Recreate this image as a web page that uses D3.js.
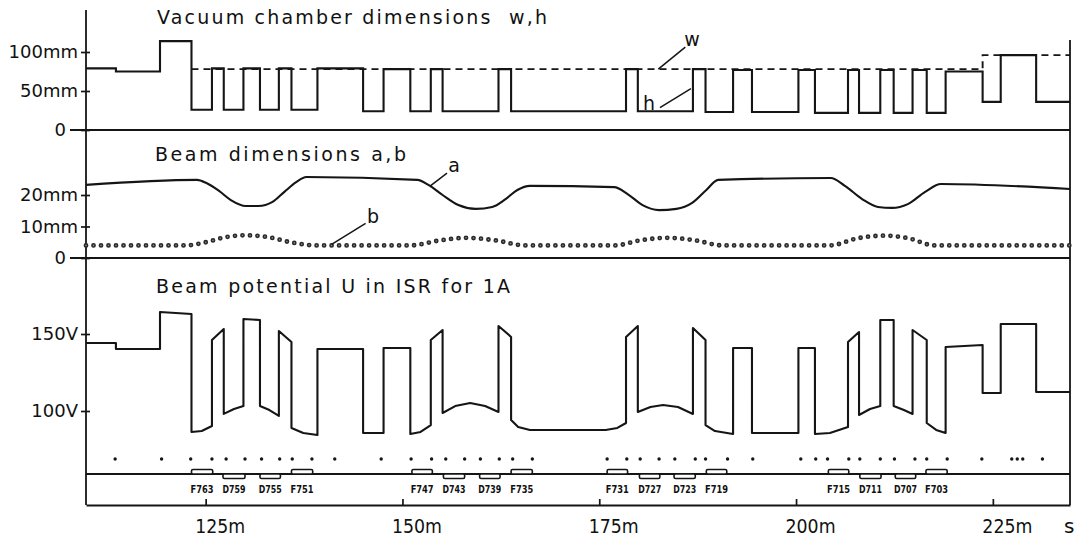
<!DOCTYPE html>
<html><head><meta charset="utf-8">
<script src="https://cdn.jsdelivr.net/npm/d3@7"></script>
<style>
html,body{margin:0;padding:0;background:#fff;}
svg{display:block;}
text{font-family:"DejaVu Sans",sans-serif;fill:#111;}
</style></head><body>
<svg id="chart" width="1076" height="543"></svg>
<script>
// Position along the ring s (m)
const sDomain = [109.8, 234.8];
const sTicks = [125, 150, 175, 200, 225];

// Vacuum chamber: h (solid) and w (dashed) as steps, edges in m, sizes in mm
const hEdges  = [109.8,113.6,119.2,123.2,125.8,127.3,129.8,131.9,134.3,135.9,139.2,145.0,147.6,151.0,153.6,155.1,162.2,163.8,178.4,179.9,186.9,188.5,192.0,194.4,200.3,202.4,206.6,208.0,210.7,212.4,214.8,216.6,219.0,223.7,226.0,230.5];
const hValues = [79,75,114,26,79,26,79,26,79,26,79,24,78,24,78,24,78,24,78,24,78,23,77,23,77,22,77,22,77,22,77,22,75,36,96,36];
const wEdges  = [123.2, 223.7];
const wValues = [78, 96];
const chamberTicks = [0, 50, 100];

// Beam half-dimensions a (solid) and b (dotted), mm
const aS = [109.8,123.9,125.1,126.7,128.2,130.1,131.7,133.5,135.0,136.5,137.8,151.9,153.3,155.1,157.1,159.3,161.4,163.1,164.6,166.2,176.9,178.6,180.5,182.6,184.8,186.8,188.6,190.1,204.4,206.2,208.4,210.4,212.2,214.2,216.4,218.4,234.8];
const aV = [23.2,24.8,23.8,21.3,18.4,16.5,16.5,17.8,21.0,24.1,25.7,24.8,23.2,20.0,16.8,15.6,16.2,18.7,21.6,22.9,22.5,20.3,16.8,15.2,15.6,17.5,21.6,24.8,25.4,22.9,18.7,16.2,15.9,17.1,21.0,23.5,21.9];
const bS = [109.8,122.5,125.0,127.5,130.1,133.0,135.8,139.0,151.0,154.8,158.2,161.8,165.6,177.0,180.2,183.6,187.2,190.6,204.3,207.9,211.3,214.2,217.6,234.8];
const bV = [4.0,4.0,5.0,6.6,7.2,6.6,5.0,4.0,4.0,5.6,6.4,5.6,4.0,4.0,5.6,6.4,5.6,4.0,4.0,6.3,7.1,6.3,4.0,4.0];
const beamTicks = [0, 10, 20];

// Beam potential U (V) for 1 A
const uS = [109.8,113.6,113.6,119.2,119.2,123.2,123.2,124.5,125.8,125.8,127.3,127.3,128.6,129.8,129.8,131.9,131.9,133.1,134.3,134.3,135.9,135.9,137.4,139.2,139.2,145.0,145.0,147.6,147.6,151.0,151.0,152.3,153.6,153.6,155.1,155.1,156.7,158.6,160.5,162.2,162.2,163.8,163.8,164.7,166.2,175.8,177.3,178.4,178.4,179.9,179.9,181.5,183.1,185.0,186.9,186.9,188.5,188.5,189.7,192.0,192.0,194.4,194.4,200.3,200.3,202.4,202.4,204.3,206.6,206.6,208.0,208.0,209.4,210.7,210.7,212.4,212.4,213.7,214.8,214.8,216.6,216.6,217.8,219.0,219.0,223.7,223.7,226.0,226.0,230.5,230.5,234.8];
const uV = [144.2,144.2,140.3,140.3,164.3,163.0,86.4,87.0,90.3,146.1,153.2,98.1,101.3,103.2,159.7,159.1,103.2,100.6,96.8,151.9,144.8,89.0,85.7,84.4,140.3,140.3,85.7,85.7,140.9,140.9,85.1,86.4,90.9,146.1,152.6,98.7,103.2,105.2,103.2,99.4,155.2,148.1,94.2,89.6,87.7,87.7,89.0,92.2,148.1,155.2,99.4,102.6,103.9,102.6,98.1,153.9,146.1,90.9,87.0,85.1,140.9,140.9,85.7,85.7,140.9,140.9,85.1,85.7,89.6,144.8,151.3,97.4,101.3,103.2,159.1,159.1,103.2,100.6,98.1,152.6,146.1,92.2,87.7,85.7,141.6,142.9,111.7,111.7,156.5,156.5,112.3,112.3];
const uTicks = [100, 150];

// Lattice magnets (F above the line, D below) and marker positions
const magnetNames = ["F763","D759","D755","F751","F747","D743","D739","F735","F731","D727","D723","F719","F715","D711","D707","F703"];
const magnetStart = [123.2,127.2,131.9,135.9,151.2,155.2,159.8,163.8,176.0,180.1,184.5,188.6,204.1,208.1,212.6,216.5];
const magnetEnd   = [125.9,130.0,134.5,138.6,153.8,157.9,162.4,166.5,178.6,182.7,187.2,191.2,206.7,210.8,215.2,219.2];
const markerS = [113.5,119.4,123.1,125.8,127.6,130.0,132.1,134.4,136.0,138.5,141.4,147.3,151.1,153.7,155.5,157.9,159.9,162.3,164.0,166.5,176.0,178.5,180.2,182.6,184.6,187.2,188.5,191.3,194.5,200.6,202.5,204.0,206.7,208.1,210.7,212.5,215.1,216.6,219.2,223.6,227.4,228.1,228.8,231.3];

const svg = d3.select("#chart");
const ink = "#151515";

const x   = d3.scaleLinear().domain(sDomain).range([86, 1070]);
const yCh = d3.scaleLinear().domain([0, 100]).range([130, 52]);
const yBm = d3.scaleLinear().domain([0, 20]).range([258, 195]);
const yU  = d3.scaleLinear().domain([100, 150]).range([411, 334]);

const steps = (edges, vals) => edges.map((e, i) => [e, vals[i]]).concat([[sDomain[1], vals[vals.length - 1]]]);

// Frame: left axis, right edge, panel separators, magnet line
const frame = svg.append("g").attr("stroke", ink).attr("stroke-width", 1.8).attr("fill", "none");
frame.append("line").attr("x1", 86).attr("x2", 86).attr("y1", 10).attr("y2", 505);
frame.append("line").attr("x1", 1070).attr("x2", 1070).attr("y1", 40).attr("y2", 505);
frame.append("line").attr("x1", 70).attr("x2", 1070).attr("y1", yCh(0)).attr("y2", yCh(0));
frame.append("line").attr("x1", 70).attr("x2", 1070).attr("y1", yBm(0)).attr("y2", yBm(0));
frame.append("line").attr("x1", 86).attr("x2", 1070).attr("y1", 474).attr("y2", 474);

// Left axes
function leftAxis(scale, ticks, unit) {
  const g = svg.append("g").attr("transform", "translate(86,0)")
    .call(d3.axisLeft(scale).tickValues(ticks).tickSize(5).tickPadding(3)
      .tickFormat(d => d === 0 ? "0" : d + unit));
  g.select(".domain").remove();
  g.selectAll(".tick line").attr("x1", 4).attr("stroke", ink).attr("stroke-width", 1.7);
  g.selectAll(".tick text").attr("font-size", 18).attr("fill", ink)
    .attr("font-family", "DejaVu Sans, sans-serif")
    .filter(d => d === 0).attr("x", -20);
  return g;
}
leftAxis(yCh, chamberTicks, "mm");
leftAxis(yBm, beamTicks, "mm");
leftAxis(yU, uTicks, "V");

// Bottom axis
const bx = svg.append("g").attr("transform", "translate(0,505)")
  .call(d3.axisBottom(x).tickValues(sTicks).tickSize(-6).tickSizeOuter(0).tickFormat(d => d + "m"));
bx.select(".domain").attr("stroke", ink).attr("stroke-width", 1.8);
bx.selectAll(".tick line").attr("stroke", ink).attr("stroke-width", 1.7);
bx.selectAll(".tick text").attr("font-size", 20).attr("fill", ink)
  .attr("font-family", "DejaVu Sans, sans-serif")
  .attr("text-anchor", "start").attr("x", -11).attr("y", 28).attr("dy", null)
  .attr("textLength", 50).attr("lengthAdjust", "spacingAndGlyphs");
svg.append("text").attr("x", 1064).attr("y", 533).attr("font-size", 20).text("s");

// Panel titles
const titles = [
  {t: "Vacuum chamber dimensions  w,h", x: 157, y: 24, len: 390},
  {t: "Beam dimensions a,b", x: 155, y: 161, len: 251},
  {t: "Beam potential U in ISR for 1A", x: 156, y: 293, len: 354}
];
svg.selectAll("text.title").data(titles).join("text").attr("class", "title")
  .attr("x", d => d.x).attr("y", d => d.y).attr("font-size", 19)
  .attr("textLength", d => d.len).attr("lengthAdjust", "spacing")
  .style("white-space", "pre").text(d => d.t);

// Chamber h (solid) and w (dashed)
svg.append("path").datum(steps(hEdges, hValues))
  .attr("fill", "none").attr("stroke", ink).attr("stroke-width", 2.1)
  .attr("d", d3.line().x(d => x(d[0])).y(d => yCh(d[1])).curve(d3.curveStepAfter));
svg.append("path").datum(steps(wEdges, wValues))
  .attr("fill", "none").attr("stroke", ink).attr("stroke-width", 1.9).attr("stroke-dasharray", "7,5")
  .attr("d", d3.line().x(d => x(d[0])).y(d => yCh(d[1])).curve(d3.curveStepAfter));

// Beam a (solid) and b (dotted)
const aPts = aS.map((s, i) => [s, aV[i]]);
const bPts = bS.map((s, i) => [s, bV[i]]);
svg.append("path").datum(aPts)
  .attr("fill", "none").attr("stroke", ink).attr("stroke-width", 2.1)
  .attr("d", d3.line().x(d => x(d[0])).y(d => yBm(d[1])).curve(d3.curveMonotoneX));
const bLine = d3.line().x(d => x(d[0])).y(d => yBm(d[1])).curve(d3.curveMonotoneX);
svg.append("path").datum(bPts)
  .attr("fill", "none").attr("stroke", "#2a2a2a").attr("stroke-width", 4.8)
  .attr("stroke-linecap", "round").attr("stroke-dasharray", "0 7.5").attr("d", bLine);
svg.append("path").datum(bPts)
  .attr("fill", "none").attr("stroke", "#8a8a8a").attr("stroke-width", 1.6)
  .attr("stroke-linecap", "round").attr("stroke-dasharray", "0 7.5").attr("d", bLine);

// Potential U
svg.append("path").datum(uS.map((s, i) => [s, uV[i]]))
  .attr("fill", "none").attr("stroke", ink).attr("stroke-width", 2.1).attr("stroke-linejoin", "round")
  .attr("d", d3.line().x(d => x(d[0])).y(d => yU(d[1])));

// Curve labels with leader lines, anchored on the curves
const aAt = s => d3.scaleLinear().domain(aS).range(aV)(s);
const bAt = s => d3.scaleLinear().domain(bS).range(bV)(s);
const notes = [
  {t: "w", px: x(182.5), py: yCh(78), dx: 27, dy: -22, tx: 692, ty: 46},
  {t: "h", px: x(186.9) - 2, py: yCh(53), dx: -31, dy: 19, tx: 649, ty: 110},
  {t: "a", px: x(153.5), py: yBm(aAt(153.5)), dx: 17, dy: -13, tx: 454, ty: 172},
  {t: "b", px: x(141.0), py: yBm(bAt(141.0)) - 1, dx: 34, dy: -21, tx: 373, ty: 223}
];
const ng = svg.append("g");
ng.selectAll("line").data(notes).join("line")
  .attr("x1", d => d.px).attr("y1", d => d.py)
  .attr("x2", d => d.px + d.dx).attr("y2", d => d.py + d.dy)
  .attr("stroke", ink).attr("stroke-width", 1.5);
ng.selectAll("text").data(notes).join("text")
  .attr("x", d => d.tx).attr("y", d => d.ty).attr("text-anchor", "middle")
  .attr("font-size", 19).text(d => d.t);

// Magnets
const mg = svg.append("g");
const mags = magnetNames.map((n, i) => ({n, s0: magnetStart[i], s1: magnetEnd[i], up: n[0] === "F"}));
mg.selectAll("rect").data(mags).join("rect")
  .attr("x", d => x(d.s0)).attr("width", d => x(d.s1) - x(d.s0))
  .attr("y", d => d.up ? 469.5 : 474).attr("height", 4.5).attr("rx", 1.5)
  .attr("fill", "#fff").attr("stroke", ink).attr("stroke-width", 1.6);
mg.selectAll("text").data(mags).join("text")
  .attr("x", d => (x(d.s0) + x(d.s1)) / 2).attr("y", 493).attr("text-anchor", "middle")
  .attr("font-size", 11).attr("font-weight", "bold")
  .attr("font-family", "DejaVu Sans Condensed, DejaVu Sans, sans-serif")
  .attr("textLength", 23).attr("lengthAdjust", "spacingAndGlyphs")
  .text(d => d.n);

// Marker dots along the lattice
svg.append("g").selectAll("circle").data(markerS).join("circle")
  .attr("cx", d => x(d)).attr("cy", 459).attr("r", 1.7).attr("fill", ink);
</script>
</body></html>
